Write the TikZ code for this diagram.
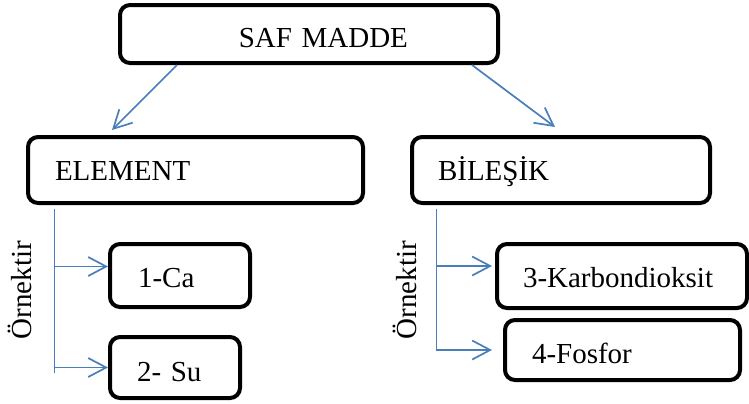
\documentclass[tikz,border=0pt]{standalone}
\usepackage{fontspec}
\setmainfont{Liberation Serif}
\usetikzlibrary{arrows.meta}

\definecolor{linkblue}{HTML}{4A7EBB}

\begin{document}
\begin{tikzpicture}[x=0.5pt,y=-0.5pt,
    every node/.style={font=\fontsize{14.5pt}{17pt}\selectfont},
    item/.style={rectangle, draw, line width=2pt, rounded corners=5pt, anchor=north west, align=left, text depth=0pt},
    branch/.style={->, draw=linkblue, line width=0.85pt},
    trunk/.style={draw=linkblue, line width=0.45pt},
    >={Straight Barb[length=9pt,width=9.5pt]}]
    \useasboundingbox (0,0) rectangle (749,403);
    \node[item, align=right, text width=99pt, inner xsep=45pt, minimum height=29pt, text height=13pt] (saf) at (118,3) {SAF MADDE};
    \node[item, text width=140.5pt, inner xsep=13.5pt, minimum height=33pt, text height=10pt] (element) at (26,135) {ELEMENT};
    \node[item, text width=123pt, inner xsep=13pt, minimum height=33pt, text height=10pt] (bilesik) at (410,135) {BİLEŞİK};
    \draw[branch] ([xshift=29.5pt]saf.south west) -- ([xshift=43pt,yshift=2.5pt]element.north west);
    \draw[branch] ([xshift=-14pt]saf.south east) -- ([xshift=72.5pt,yshift=4pt]bilesik.north west);
    \node[item, text width=42pt, inner xsep=14pt, minimum height=31.5pt, text height=11.5pt] (ca) at (108,242) {1-Ca};
    \node[item, text width=38pt, inner xsep=13.5pt, minimum height=30.5pt, text height=13.5pt] (su) at (108,335) {2- Su};
    \node[item, text width=99pt, inner xsep=13pt, minimum height=32pt, text height=11pt] (karbon) at (495,242) {3-Karbondioksit};
    \node[item, text width=90.5pt, inner xsep=13.5pt, minimum height=30pt, text height=13pt] (fosfor) at (503,318) {4-Fosfor};
    \node[rotate=90] (ornek1) at (20,290) {Örnektir};
    \node[rotate=90] (ornek2) at (405,290) {Örnektir};
    \coordinate (etop) at ([xshift=14pt,yshift=-2pt]element.south west);
    \coordinate (ebot) at ([yshift=-2.5pt]su.west);
    \coordinate (cain) at ([yshift=4.5pt]ca.west);
    \draw[trunk] (etop) -- (etop |- ebot);
    \draw[branch] (etop |- cain) -- (cain);
    \draw[branch] (etop |- su.west) -- (su.west);
    \coordinate (btop) at ([xshift=13pt,yshift=-2pt]bilesik.south west);
    \coordinate (kin) at ([xshift=-1.5pt,yshift=5pt]karbon.west);
    \coordinate (fin) at ([xshift=-5.5pt]fosfor.west);
    \draw[trunk] (btop) -- (btop |- fin);
    \draw[branch] (btop |- kin) -- (kin);
    \draw[branch] (btop |- fin) -- (fin);
\end{tikzpicture}
\end{document}
